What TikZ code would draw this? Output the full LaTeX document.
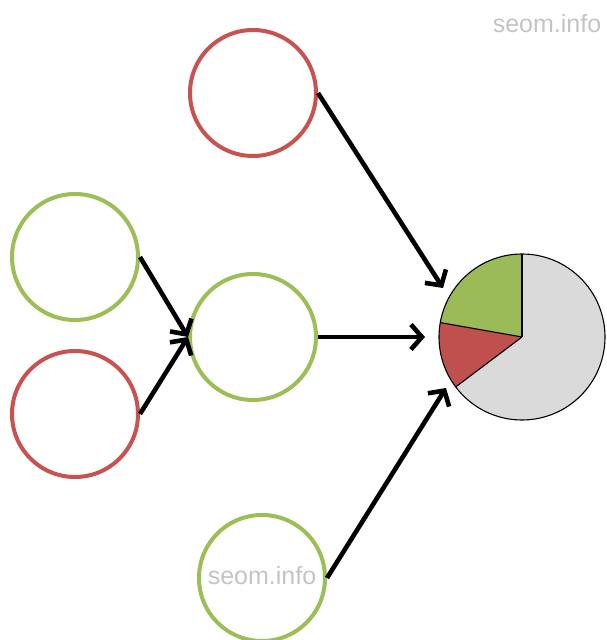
\documentclass[tikz,border=0pt]{standalone}
\usepackage{fontspec}
\setmainfont{Liberation Sans}
\usetikzlibrary{arrows.meta}
\definecolor{cred}{RGB}{200,82,80}
\definecolor{cgreen}{RGB}{155,190,85}
\definecolor{pgreen}{RGB}{155,187,89}
\definecolor{pred}{RGB}{192,80,77}
\definecolor{pgray}{RGB}{218,218,218}
\definecolor{wm}{RGB}{196,196,196}
\tikzset{
  ring/.style={circle, line width=4pt, minimum size=126pt, inner sep=0pt},
  arr/.style={line width=4.6pt, -{Straight Barb[length=11pt,width=25pt]}},
  wmark/.style={text=wm, font=\fontsize{25}{25}\selectfont, anchor=base, inner sep=0pt}
}
\begin{document}
\begin{tikzpicture}[x=1pt,y=1pt]
\useasboundingbox (0,0) rectangle (606,640);
% circles
\node[ring, draw=cred] (top) at (253,547) {};
\node[ring, draw=cgreen] (lg) at (75,383) {};
\node[ring, draw=cred] (lr) at (75,226) {};
\node[ring, draw=cgreen] (mid) at (253,303) {};
\node[ring, draw=cgreen] (bot) at (262,62) {};
% pie
\node[circle, minimum size=166pt, inner sep=0pt] (pie) at (522,303) {};
\fill[pgray] (pie.center) -- ++(217:83) arc[start angle=217, end angle=450, radius=83] -- cycle;
\fill[pgreen] (pie.center) -- ++(90:83) arc[start angle=90, end angle=170, radius=83] -- cycle;
\fill[pred] (pie.center) -- ++(170:83) arc[start angle=170, end angle=217, radius=83] -- cycle;
\draw[line width=1.1pt] (pie.center) circle[radius=83];
\draw[line width=1.1pt] (pie.center) -- ++(90:83);
\draw[line width=1.1pt] (pie.center) -- ++(170:83);
\draw[line width=1.1pt] (pie.center) -- ++(217:83);
% arrow tips
\coordinate (t1) at (443,352);
\coordinate (t2) at (425,303);
\coordinate (t3) at (446,252);
% arrows
\draw[arr] (top.east) -- (t1);
\draw[arr] (lg.east) -- (mid.west);
\draw[arr] (lr.east) -- (mid.west);
\draw[arr] (mid.east) -- (t2);
\draw[arr] (bot.east) -- (t3);
% watermarks
\node[wmark] (wm1) at (547,607) {seom.info};
\node[wmark] (wm2) at (262,55) {seom.info};
\end{tikzpicture}
\end{document}
